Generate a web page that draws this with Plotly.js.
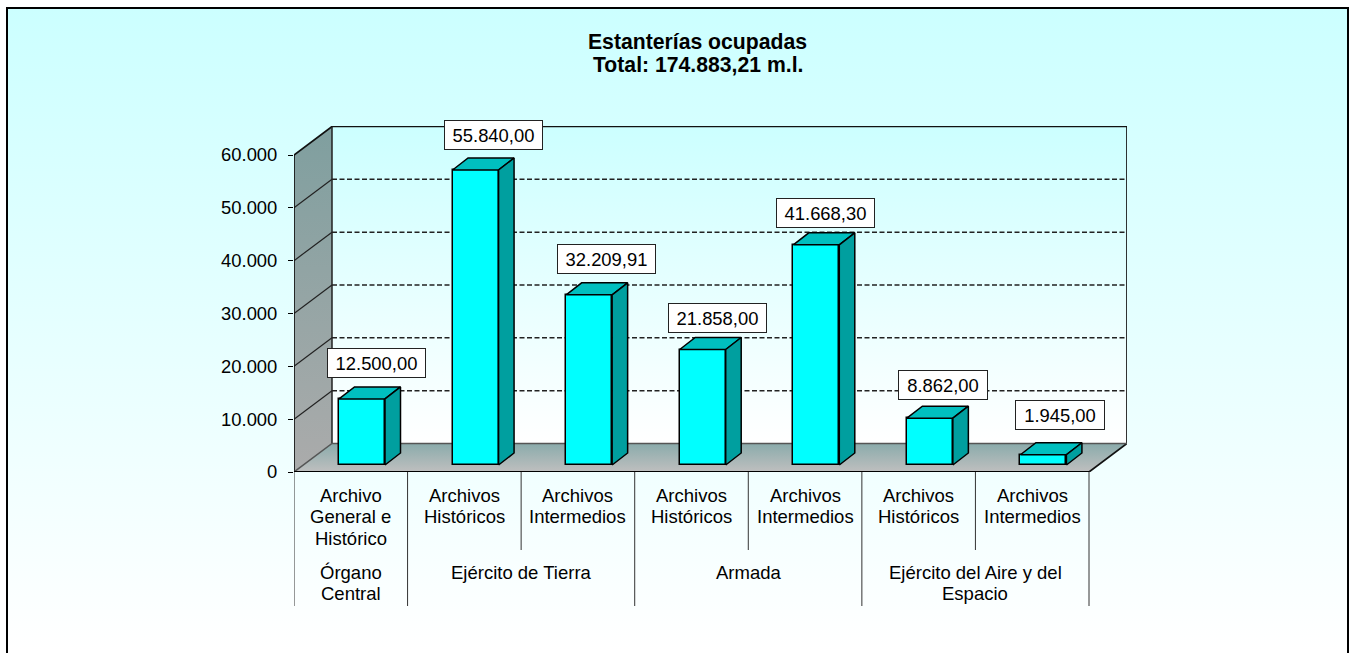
<!DOCTYPE html>
<html>
<head>
<meta charset="utf-8">
<script src="https://cdn.plot.ly/plotly-3.0.1.min.js"></script>
<style>
html,body{margin:0;padding:0;background:#fff;overflow:hidden;width:1351px;height:653px}
#frame{position:absolute;left:6px;top:7px;width:1339px;height:660px;border:2px solid #000;background:linear-gradient(to bottom,#ccffff 0%,#ffffff 97%)}
#chart{position:absolute;left:0;top:0;width:1351px;height:653px}
</style>
</head>
<body>
<div id="frame"></div>
<div id="chart"></div>
<script>
// ---- data ----
const values = [12500, 55840, 32209.91, 21858, 41668.30, 8862, 1945];
const valueLabels = ["12.500,00","55.840,00","32.209,91","21.858,00","41.668,30","8.862,00","1.945,00"];
const subCategories = [
  ["Archivo","General e","Histórico"],
  ["Archivos","Históricos"],
  ["Archivos","Intermedios"],
  ["Archivos","Históricos"],
  ["Archivos","Intermedios"],
  ["Archivos","Históricos"],
  ["Archivos","Intermedios"]
];
const groups = [
  ["Órgano","Central"],
  ["Ejército de Tierra"],
  ["Armada"],
  ["Ejército del Aire y del","Espacio"]
];
const groupSpans = [[0,1],[1,3],[3,5],[5,7]];
const tickValues = [0,10000,20000,30000,40000,50000,60000];
const tickLabels = ["0","10.000","20.000","30.000","40.000","50.000","60.000"];
const titleLines = ["Estanterías ocupadas","Total: 174.883,21 m.l."];

// ---- label box nudges relative to each bar (pixels) ----
const labelShiftX = [14.5, 17.5, 17.5, 15, 9.5, 13.5, 16.5];
const labelGapY   = [21, 20, 20.5, 16.5, 17, 18, 24.5];

// ---- scales ----
const catPx = 795/7, valPx = 317/60000;
const plotL = 294, plotT = 126, plotR = 1127, plotB = 472;
const xMax = (plotR-plotL)/catPx, yMax = (plotB-plotT)/valPx;
const depthX = 38/catPx, depthY = 28.5/valPx;
const barDX = 15.5/catPx, barDY = 12/valPx;
const barW = 46/catPx, barOffset = (362-plotL)/catPx - 0.5, barBase = 7/valPx;
const font = "Arial, 'Liberation Sans', sans-serif";
const nCat = values.length, topV = tickValues[tickValues.length-1];
const edge = {color:'#000', width:1.5};

function poly(xs, ys, extra){
  return Object.assign({type:'scatter', mode:'lines', x:xs, y:ys, fill:'toself',
    hoverinfo:'skip', showlegend:false, cliponaxis:false, line:{width:0}}, extra);
}
function seg(xs, ys, line){
  return {type:'scatter', mode:'lines', x:xs, y:ys, hoverinfo:'skip', showlegend:false,
    cliponaxis:false, line:line};
}
const grad = (low, high) => ({type:'vertical', colorscale:[[0,low],[1,high]]});

const traces = [];
// back wall
traces.push(poly([depthX,nCat+depthX,nCat+depthX,depthX,depthX],[depthY,depthY,topV+depthY,topV+depthY,depthY],
  {fillgradient:grad('#ffffff','#ccffff')}));
// left wall
traces.push(poly([0,depthX,depthX,0,0],[0,depthY,topV+depthY,topV,0],
  {fillgradient:grad('#ababab','#7f9f9f')}));
// floor
traces.push(poly([0,nCat,nCat+depthX,depthX,0],[0,0,depthY,depthY,0],
  {fillgradient:grad('#bfbfbf','#8aabab')}));
// grid
tickValues.slice(1,-1).forEach(v=>{
  traces.push(seg([depthX,nCat+depthX],[v+depthY,v+depthY],{color:'#222',width:1.5,dash:'5px,2.5px'}));
});
tickValues.slice(1,-1).forEach(v=>{
  traces.push(seg([0,depthX],[v,v+depthY],{color:'#222',width:1.2}));
});
// wall frame
traces.push(seg([0,0,depthX,nCat+depthX,nCat+depthX,nCat],[0,topV,topV+depthY,topV+depthY,depthY,0],{color:'#111',width:1.7}));
traces.push(seg([depthX,depthX],[topV+depthY,depthY],{color:'#222',width:1.5}));
traces.push(seg([0,depthX,nCat+depthX],[0,depthY,depthY],{color:'#555',width:1.5}));
traces.push(seg([0,nCat],[0,0],{color:'#000',width:2}));

// 3D bars on an overlay so that they sit above the walls
const centers = values.map((v,i)=>i+0.5+barOffset);
traces.push({type:'bar', x:centers, y:values, base:values.map(()=>barBase), width:barW,
  xaxis:'x2', yaxis:'y2', marker:{color:'#00ffff', line:{color:'#000',width:1.5}},
  showlegend:false, hovertemplate:'%{customdata}<extra></extra>', customdata:valueLabels});
values.forEach((v,i)=>{
  const l=centers[i]-barW/2, r=centers[i]+barW/2, t=v+barBase;
  traces.push(poly([l,r,r+barDX,l+barDX,l],[t,t,t+barDY,t+barDY,t],
    {xaxis:'x2',yaxis:'y2',fillcolor:'#00bfbf',line:edge}));
  traces.push(poly([r,r+barDX,r+barDX,r,r],[barBase,barBase+barDY,t+barDY,t,barBase],
    {xaxis:'x2',yaxis:'y2',fillcolor:'#009f9f',line:edge}));
});

// ---- annotations ----
const annotations = [];
values.forEach((v,i)=>{
  annotations.push({text:valueLabels[i], xref:'x', yref:'y', x:centers[i], y:v+barBase,
    xanchor:'center', yanchor:'bottom', xshift:labelShiftX[i], yshift:labelGapY[i], showarrow:false,
    bgcolor:'#fff', bordercolor:'#222', borderwidth:1, borderpad:0,
    width: i<5 ? 97 : 88, height:28, font:{family:font,size:18.4,color:'#000'}});
});
function rowLabel(lines, xc, startPx){
  lines.forEach((t,k)=>{
    annotations.push({text:t, xref:'x', yref:'paper', x:xc, y:0, xanchor:'center', yanchor:'middle',
      yshift:-(startPx + k*21.5 - plotB), showarrow:false, font:{family:font,size:18.5,color:'#000'}});
  });
}
subCategories.forEach((lines,i)=>rowLabel(lines, i+0.5, 495));
groups.forEach((lines,i)=>rowLabel(lines, (groupSpans[i][0]+groupSpans[i][1])/2, 572));
// second title line
annotations.push({text:titleLines[1], xref:'paper', yref:'paper', x:(697.5-plotL)/(plotR-plotL), y:1,
  xanchor:'center', yanchor:'middle', yshift:plotT-64.5, showarrow:false,
  font:{family:font,size:21.2,color:'#000',weight:'bold'}});

// ---- separators below the axis ----
const shapes = [];
const plotH = plotB-plotT;
for(let i=0;i<=nCat;i++){
  const full = groupSpans.some(s=>s[0]===i||s[1]===i);
  shapes.push({type:'line', xref:'x', yref:'paper', x0:i, x1:i, y0:0, y1:-((full?606:550)-plotB)/plotH,
    line:{color:'#333',width:1}});
}

const layout = {
  width:1351, height:653, autosize:false,
  margin:{l:plotL, t:plotT, r:1351-plotR, b:653-plotB, pad:0},
  paper_bgcolor:'rgba(0,0,0,0)', plot_bgcolor:'rgba(0,0,0,0)',
  showlegend:false, hovermode:'closest', bargap:0,
  title:{text:titleLines[0], x:697.5/1351, xanchor:'center', xref:'container',
    y:1-42/653, yanchor:'middle', yref:'container', font:{family:font,size:21.2,color:'#000',weight:'bold'}},
  xaxis:{range:[0,xMax], visible:false, fixedrange:true},
  yaxis:{range:[0,yMax], tickmode:'array', tickvals:tickValues, ticktext:tickLabels,
    ticks:'outside', ticklen:5, tickwidth:1, tickcolor:'#000', showgrid:false, zeroline:false, showline:false,
    ticklabelstandoff:7, ticklabelshift:-2.5,
    tickfont:{family:font,size:18.4,color:'#000'}, fixedrange:true},
  xaxis2:{range:[0,xMax], overlaying:'x', visible:false, fixedrange:true},
  yaxis2:{range:[0,yMax], overlaying:'y', visible:false, fixedrange:true},
  annotations:annotations, shapes:shapes
};
Plotly.newPlot('chart', traces, layout, {displayModeBar:false, responsive:false});
</script>
</body>
</html>
